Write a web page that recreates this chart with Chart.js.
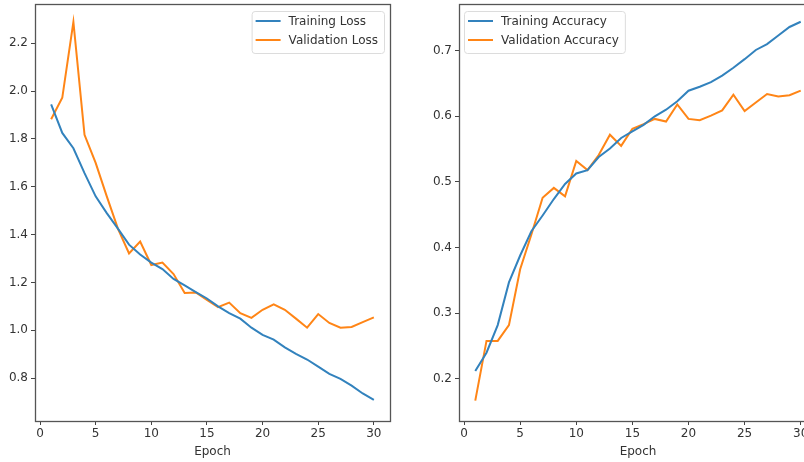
<!DOCTYPE html>
<html>
<head>
<meta charset="utf-8">
<script src="https://cdn.jsdelivr.net/npm/chart.js@4.4.0/dist/chart.umd.min.js"></script>
<style>
  html, body { margin:0; padding:0; background:#fff; overflow:hidden; width:804px; height:462px; }
  canvas { position:absolute; top:0; }
  #lossChart { left:0; }
  #accChart { left:404px; }
</style>
</head>
<body>
<canvas id="lossChart" width="400" height="462"></canvas>
<canvas id="accChart" width="420" height="462"></canvas>
<script>
// data
const epochs = [1,2,3,4,5,6,7,8,9,10,11,12,13,14,15,16,17,18,19,20,21,22,23,24,25,26,27,28,29,30];
const trainLoss = [1.944,1.825,1.761,1.657,1.560,1.490,1.425,1.358,1.317,1.283,1.256,1.215,1.188,1.160,1.133,1.100,1.072,1.049,1.011,0.981,0.961,0.929,0.902,0.878,0.848,0.818,0.797,0.769,0.736,0.709];
const valLoss = [1.882,1.972,2.289,1.817,1.700,1.560,1.425,1.321,1.371,1.273,1.283,1.235,1.156,1.158,1.127,1.097,1.116,1.072,1.052,1.086,1.109,1.086,1.049,1.011,1.068,1.031,1.011,1.014,1.034,1.054];
const trainAcc = [0.212,0.240,0.282,0.347,0.388,0.425,0.449,0.474,0.497,0.513,0.518,0.538,0.551,0.567,0.577,0.587,0.600,0.610,0.623,0.639,0.645,0.652,0.662,0.674,0.687,0.701,0.710,0.723,0.736,0.744];
const valAcc = [0.167,0.258,0.258,0.282,0.367,0.420,0.476,0.491,0.478,0.532,0.518,0.541,0.572,0.555,0.581,0.588,0.596,0.592,0.618,0.596,0.594,0.601,0.609,0.633,0.608,0.621,0.634,0.630,0.632,0.639];

const epochTicks = [0,5,10,15,20,25,30];
const lossTicks = [0.8,1.0,1.2,1.4,1.6,1.8,2.0,2.2];
const accTicks = [0.2,0.3,0.4,0.5,0.6,0.7];

const BLUE = "#3282bd", ORANGE = "#ff8516";
const FONT = { family: "'DejaVu Sans', sans-serif", size: 12 };
const TXT = "#333";

const pts = ys => epochs.map((e,i) => ({ x: e, y: ys[i] }));

// axes frame (all four spines)
const framePlugin = {
  id: "frame",
  afterDatasetsDraw(chart) {
    const { ctx, chartArea: a } = chart;
    ctx.save();
    ctx.strokeStyle = "#555";
    ctx.lineWidth = 1.3;
    ctx.strokeRect(Math.round(a.left) + 0.5, Math.round(a.top) + 0.5, Math.round(a.right - a.left), Math.round(a.bottom - a.top));
    ctx.restore();
  }
};

// matplotlib-ish legend inside the axes
const inLegend = {
  id: "inLegend",
  afterDraw(chart, args, opts) {
    const { ctx, chartArea: a } = chart;
    ctx.save();
    ctx.font = FONT.size + "px " + FONT.family;
    const ds = chart.data.datasets;
    const tw = Math.max(...ds.map(d => ctx.measureText(d.label).width));
    const w = 37 + tw + 6, h = 42;
    const x = opts.side === "right" ? a.right - 6 - w : a.left + 5;
    const y = a.top + 7;
    ctx.beginPath();
    ctx.roundRect(x + 0.5, y + 0.5, w, h, 3);
    ctx.fillStyle = "rgba(255,255,255,0.85)";
    ctx.fill();
    ctx.strokeStyle = "#dcdcdc";
    ctx.lineWidth = 1;
    ctx.stroke();
    ds.forEach((d, i) => {
      const ry = y + 10 + i * 19;
      ctx.beginPath();
      ctx.moveTo(x + 4, ry);
      ctx.lineTo(x + 29, ry);
      ctx.strokeStyle = d.borderColor;
      ctx.lineWidth = 2;
      ctx.stroke();
      ctx.fillStyle = TXT;
      ctx.textBaseline = "middle";
      ctx.fillText(d.label, x + 37, ry + 1);
    });
    ctx.restore();
  }
};

function makeChart(id, labels, series, yMin, yMax, yTicks, yWidth, padRight, side) {
  return new Chart(document.getElementById(id), {
    type: "line",
    data: {
      datasets: [
        { label: labels[0], data: pts(series[0]), borderColor: BLUE, backgroundColor: BLUE },
        { label: labels[1], data: pts(series[1]), borderColor: ORANGE, backgroundColor: ORANGE }
      ]
    },
    options: {
      responsive: false,
      animation: false,
      layout: { padding: { top: 4, right: padRight, left: 0, bottom: 0 } },
      elements: { point: { radius: 0 }, line: { borderWidth: 2, tension: 0 } },
      plugins: { legend: { display: false }, tooltip: { enabled: false }, inLegend: { side } },
      scales: {
        x: {
          type: "linear", min: -0.45, max: 31.45,
          afterBuildTicks: s => { s.ticks = epochTicks.map(v => ({ value: v })); },
          afterFit: s => { s.height = 41; s.paddingLeft = 0; s.paddingRight = 0; },
          grid: { drawOnChartArea: false, drawTicks: true, tickLength: 4, color: "#444" },
          border: { display: false },
          ticks: { font: FONT, color: TXT, padding: 2, maxRotation: 0 },
          title: { display: true, text: "Epoch", font: FONT, color: TXT, padding: { top: 2, bottom: 3 } }
        },
        y: {
          min: yMin, max: yMax,
          afterBuildTicks: s => { s.ticks = yTicks.map(v => ({ value: v })); },
          afterFit: s => { s.width = yWidth; s.paddingTop = 0; s.paddingBottom = 0; },
          grid: { drawOnChartArea: false, drawTicks: true, tickLength: 4, color: "#444" },
          border: { display: false },
          ticks: { font: FONT, color: TXT, padding: 3, callback: v => v.toFixed(1) }
        }
      }
    },
    plugins: [framePlugin, inLegend]
  });
}

makeChart("lossChart", ["Training Loss", "Validation Loss"], [trainLoss, valLoss], 0.621, 2.364, lossTicks, 35, 10, "right");
makeChart("accChart", ["Training Accuracy", "Validation Accuracy"], [trainAcc, valAcc], 0.136, 0.771, accTicks, 55, 7, "left");
</script>
</body>
</html>
